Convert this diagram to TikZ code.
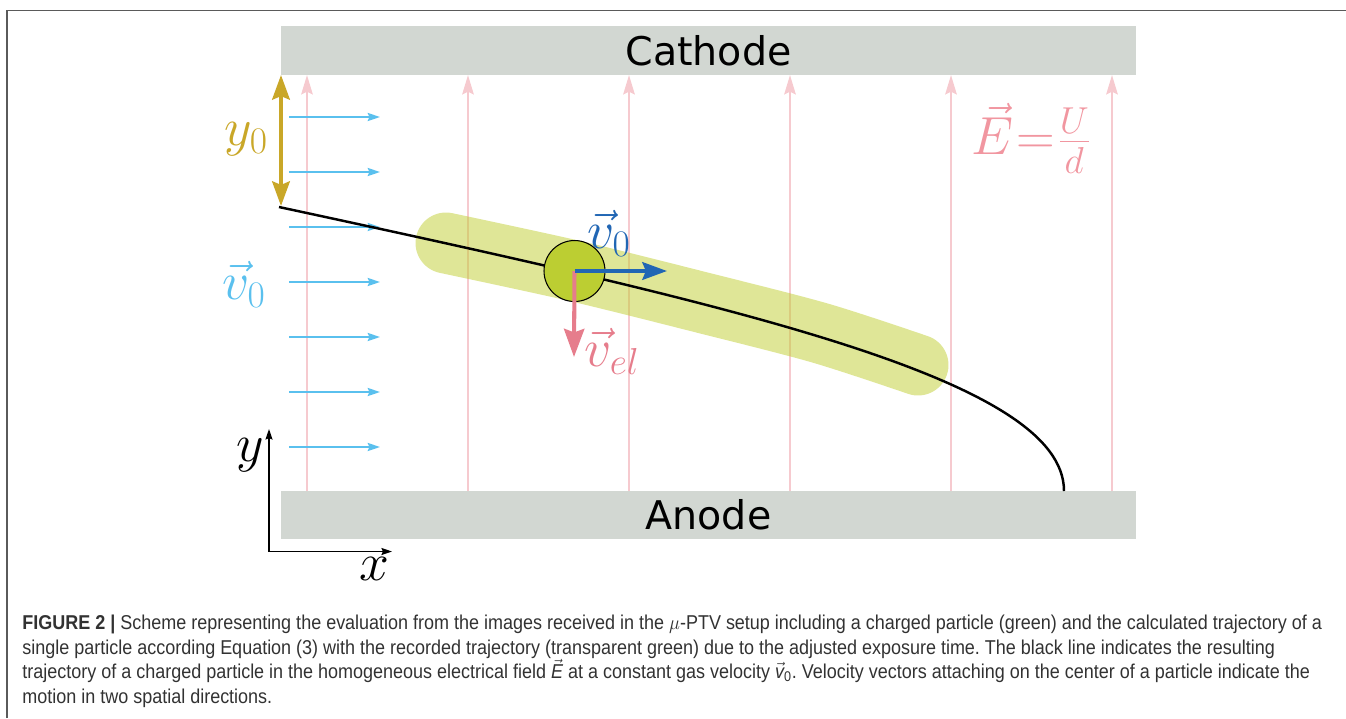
\RequirePackage{fix-cm}
\documentclass[tikz,border=0pt]{standalone}
\usepackage{fontspec}
\usepackage{graphicx}
\usetikzlibrary{arrows.meta}
\newfontfamily\platefont{DejaVu Sans}
\newfontfamily\capfont{Liberation Sans}
\definecolor{plategray}{RGB}{210,215,210}
\definecolor{fieldpink}{RGB}{246,202,207}
\definecolor{gasblue}{RGB}{90,192,238}
\definecolor{goldc}{RGB}{201,167,40}
\definecolor{darkblue}{RGB}{33,102,180}
\definecolor{velpink}{RGB}{230,125,140}
\definecolor{epink}{RGB}{241,150,160}
\definecolor{bandgreen}{RGB}{191,205,47}
\definecolor{particlegreen}{RGB}{188,206,50}
\definecolor{framegray}{RGB}{90,90,90}
\definecolor{captext}{RGB}{50,50,50}
\frenchspacing
\newcommand{\capline}[1]{\scalebox{0.898}[1]{\capfont\fontsize{11.4pt}{14pt}\selectfont\color{captext}#1}}
\begin{document}
\begin{tikzpicture}[x=0.02cm,y=-0.02cm,
  plate/.style={fill=plategray, draw=none, minimum width=17.1cm, minimum height=0.97cm, inner sep=0pt, font=\platefont\fontsize{22.5pt}{24pt}\selectfont},
  fieldarrow/.style={draw=fieldpink, line width=1.4pt, -{Stealth[length=11pt,width=6.5pt,inset=1.5pt]}},
  gasarrow/.style={draw=gasblue, line width=1.1pt, -{Stealth[length=7pt,width=4.6pt,inset=1pt]}},
  goldarrow/.style={draw=goldc, line width=2.2pt, {Stealth[length=14pt,width=10pt,inset=2pt]}-{Stealth[length=14pt,width=10pt,inset=2pt]}},
  vzero/.style={draw=darkblue, line width=2.3pt, -{Stealth[length=14pt,width=10pt,inset=2pt]}},
  vel/.style={draw=velpink, line width=2.3pt, -{Stealth[length=16pt,width=11.5pt,inset=2pt]}},
  axisarrow/.style={draw=black, line width=0.85pt, -{Stealth[length=6pt,width=4pt,inset=0.8pt]}},
  mathlabel/.style={inner sep=0pt, font=\fontsize{30.5pt}{32pt}\selectfont},
  capnode/.style={anchor=base west, inner sep=0pt}
]
\useasboundingbox (0,0) rectangle (1346,718);
% frame
\draw[framegray, line width=0.85pt] (7,718) -- (7,10.5) -- (1346,10.5);
% plates
\node[plate] (cathode) at (708.5,50.5) {Cathode};
\node[plate] (anode) at (708.5,515) {Anode};
% field arrows
\foreach \i/\xx in {1/307,2/468,3/629,4/790,5/951,6/1112}{
  \coordinate (fb\i) at (\xx,491);
  \coordinate (ft\i) at (\xx,75);
  \draw[fieldarrow] (fb\i) -- (ft\i);
}
% recorded trajectory band
\coordinate (bs) at (446,243);
\coordinate (be) at (918,365);
\draw[bandgreen, opacity=0.5, line width=34.7pt, line cap=round] plot[smooth] coordinates {(bs) (575,271) (700,302) (820,333) (be)};
% gas velocity arrows
\foreach \i/\yy in {1/117,2/172,3/227,4/282,5/337,6/392,7/447}{
  \coordinate (gs\i) at (289,\yy);
  \coordinate (ge\i) at (380,\yy);
  \draw[gasarrow] (gs\i) -- (ge\i);
}
% y0 arrow
\coordinate (ytop) at (281,75);
\coordinate (ybot) at (281,206);
\draw[goldarrow] (ytop) -- (ybot);
\node[mathlabel, text=goldc] (y0lab) at (246,139) {$y_0$};
\node[mathlabel, text=gasblue] (v0lab) at (244,284) {$\vec{v}_0$};
% trajectory
\coordinate (tstart) at (279,207);
\coordinate (tend) at (1064,491);
\draw[black, line width=1.4pt] (tstart) .. controls (749,308) and (1064,381) .. (tend);
% particle
\node[circle, fill=particlegreen, draw=black, line width=0.6pt, minimum size=1.22cm, inner sep=0pt] (particle) at (574.5,271) {};
\coordinate (v0tip) at (667,271);
\coordinate (veltip) at (574,357);
\draw[vel] (particle.center) -- (veltip);
\draw[vzero] (particle.center) -- (v0tip);
\node[mathlabel, text=darkblue] (v0plab) at (609,233) {$\vec{v}_0$};
\node[mathlabel, text=velpink] (vellab) at (612,351) {$\vec{v}_{el}$};
% field label
\node[mathlabel, text=epink] (elab) at (1031,138) {$\vec{E}\mkern1mu{=}\mkern1mu\frac{U}{d}$};
% axes
\coordinate (orig) at (269,551.5);
\coordinate (ytip) at (269,429);
\coordinate (xtip) at (392,551.5);
\draw[axisarrow] (orig) -- (ytip);
\draw[axisarrow] (orig) -- (xtip);
\node[mathlabel] (ylab) at (250,455) {$y$};
\node[mathlabel] (xlab) at (374,569) {$x$};
% caption
\node[capnode] (cap1) at (22,629) {\capline{\textbf{FIGURE 2 |} Scheme representing the evaluation from the images received in the $\mu$-PTV setup including a charged particle (green) and the calculated trajectory of a}};
\node[capnode] (cap2) at (22,654) {\capline{single particle according Equation (3) with the recorded trajectory (transparent green) due to the adjusted exposure time. The black line indicates the resulting}};
\node[capnode] (cap3) at (22,678.5) {\capline{trajectory of a charged particle in the homogeneous electrical field $\vec{\hbox{\itshape E}}$ at a constant gas velocity $\vec{\hbox{\itshape v}}_{\hbox{\capfont\fontsize{8pt}{9pt}\selectfont 0}}$. Velocity vectors attaching on the center of a particle indicate the}};
\node[capnode] (cap4) at (22,703) {\capline{motion in two spatial directions.}};
\end{tikzpicture}
\end{document}
